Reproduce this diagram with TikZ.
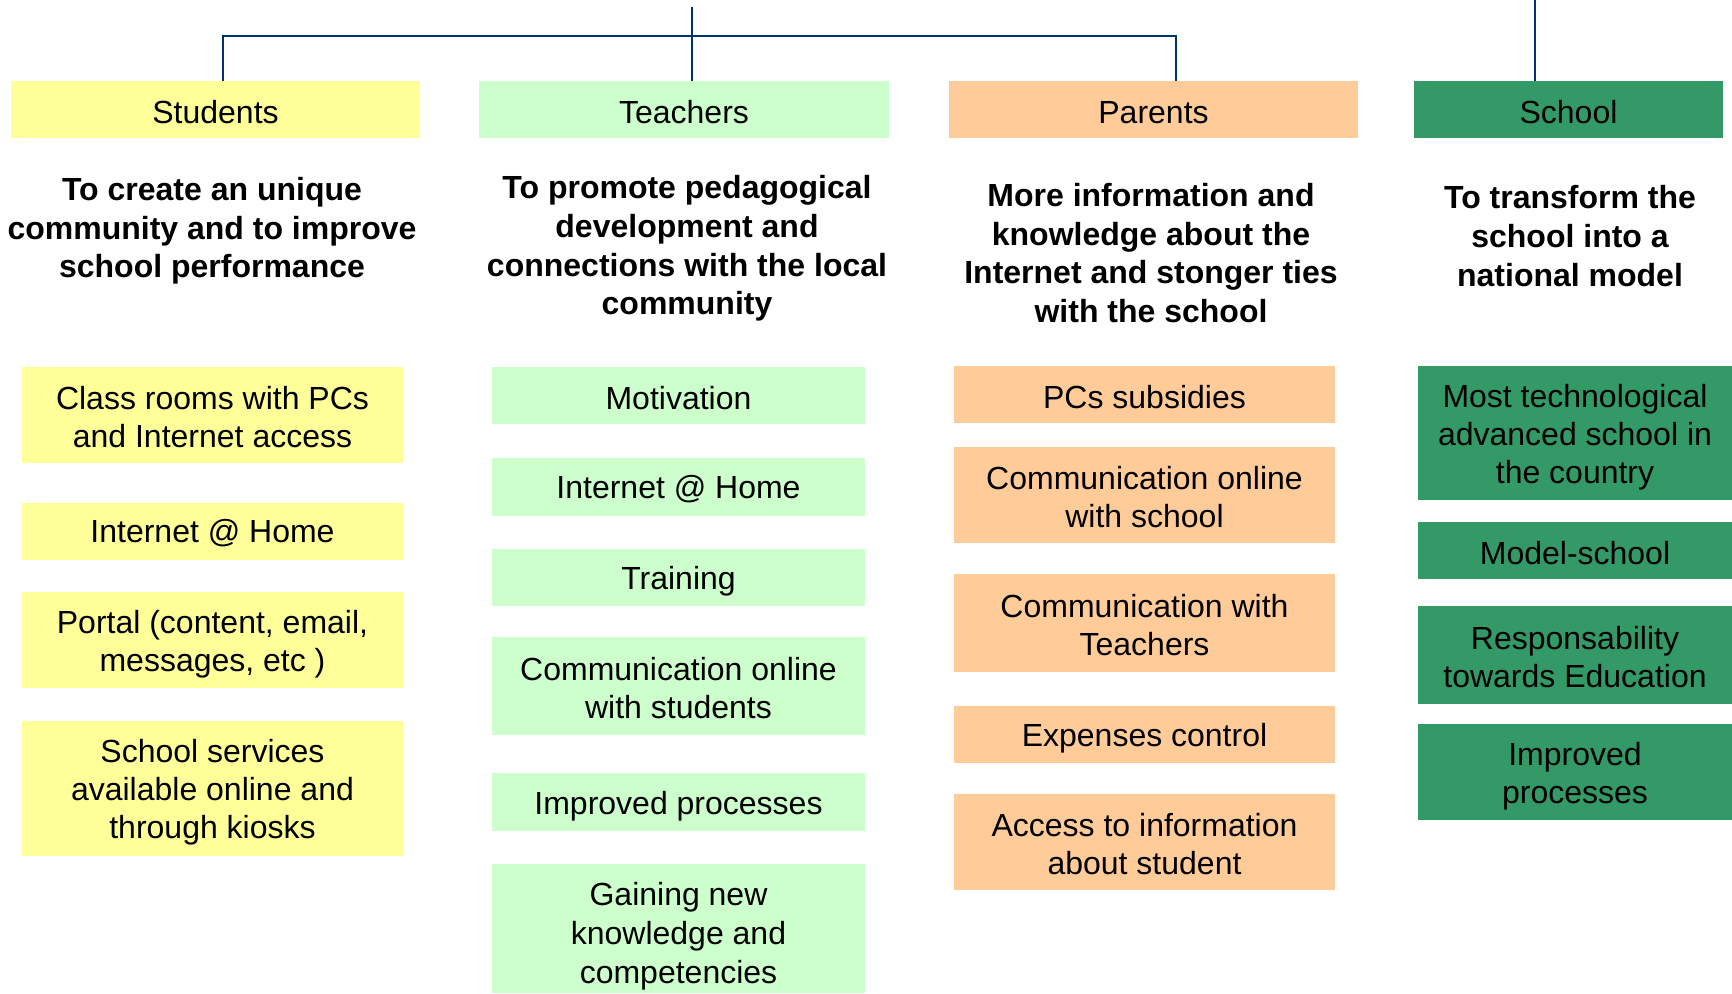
\documentclass[tikz,border=0pt]{standalone}
\usepackage{fontspec}
\setmainfont{Liberation Sans}
\usepackage{xcolor}
\definecolor{stuYellow}{HTML}{FFFF99}
\definecolor{teaGreen}{HTML}{CCFFCC}
\definecolor{parOrange}{HTML}{FFCC99}
\definecolor{schGreen}{HTML}{339966}
\definecolor{lineBlue}{HTML}{003366}

\begin{document}
\begin{tikzpicture}[x=0.5pt,y=-0.5pt]
	\tikzstyle{every node}=[font=\fontsize{16}{19}\selectfont, inner sep=0pt, align=center];
	\tikzstyle{goal}=[font=\fontsize{16}{19.3}\selectfont\bfseries];
	\tikzstyle{head}=[minimum height=28.5pt, text height=13.7pt];
	\tikzstyle{stu}=[fill=stuYellow, minimum width=190.5pt, text height=13.7pt];
	\tikzstyle{tea}=[fill=teaGreen, minimum width=186.5pt, text height=13.7pt];
	\tikzstyle{par}=[fill=parOrange, minimum width=190.5pt, text height=13.7pt];
	\tikzstyle{sch}=[fill=schGreen, minimum width=157pt, text height=13.7pt];
	\tikzstyle{low}=[text height=15.5pt];
	\tikzstyle{two}=[text height=32.7pt];
	\tikzstyle{twolow}=[text height=34.5pt];
	\tikzstyle{three}=[text height=51.7pt];
	\tikzstyle{threelow}=[text height=53.5pt];
	\tikzstyle{link}=[draw=lineBlue, line width=1pt];
	
	\useasboundingbox (0,0) rectangle (1732,994);
	
	%Headers
	\node[head, fill=stuYellow, minimum width=204.5pt] (stud) at (215.5,109.5) {Students};
	\node[head, fill=teaGreen, minimum width=205pt] (teach) at (684,109.5) {Teachers};
	\node[head, fill=parOrange, minimum width=204.5pt] (pare) at (1153.5,109.5) {Parents};
	\node[head, fill=schGreen, minimum width=154.5pt] (scho) at (1568.5,109.5) {School};
	
	%Lines
	\coordinate (tTop) at (692,7);
	\coordinate (cTop) at (1535,0);
	\coordinate (barL) at (223,36);
	\coordinate (barR) at (1176,36);
	\draw[link] (barL |- stud.north) -- (barL) -- (barR) -- (barR |- pare.north);
	\draw[link] (tTop) -- (tTop |- teach.north);
	\draw[link] (cTop) -- (cTop |- scho.north);
	
	%Goals
	\node[goal] (gStud) at (212,231) {To create an unique\\community and to improve\\school performance};
	\node[goal] (gTeach) at (687,248.5) {To promote pedagogical\\development and\\connections with the local\\community};
	\node[goal] (gPare) at (1151,253) {More information and\\knowledge about the\\Internet and stonger ties\\with the school};
	\node[goal] (gScho) at (1570,236) {To transform the\\school into a\\national model};
	
	%Students
	\node[stu, two, minimum height=48pt] (s1) at (212.5,415) {Class rooms with PCs\\and Internet access};
	\node[stu, minimum height=28.5pt] (s2) at (212.5,531.5) {Internet @ Home};
	\node[stu, twolow, minimum height=48pt] (s3) at (212.5,640) {Portal (content, email,\\messages, etc )};
	\node[stu, threelow, minimum height=67.5pt] (s4) at (212.5,788.5) {School services\\available online and\\through kiosks};
	
	%Teachers
	\node[tea, minimum height=28.5pt] (t1) at (678.5,395.5) {Motivation};
	\node[tea, minimum height=29pt] (t2) at (678.5,487) {Internet @ Home};
	\node[tea, low, minimum height=28.5pt] (t3) at (678.5,577.5) {Training};
	\node[tea, two, minimum height=49pt] (t4) at (678.5,686) {Communication online\\with students};
	\node[tea, low, minimum height=29pt] (t5) at (678.5,802) {Improved processes};
	\node[tea, text height=58.3pt, minimum height=64.5pt, font=\fontsize{16}{19.4}\selectfont] (t6) at (678.5,928.5) {Gaining new\\knowledge and\\competencies};
	
	%Parents
	\node[par, minimum height=28.5pt] (p1) at (1144.5,394.5) {PCs subsidies};
	\node[par, two, minimum height=48pt] (p2) at (1144.5,495) {Communication online\\with school};
	\node[par, two, minimum height=49pt] (p3) at (1144.5,623) {Communication with\\Teachers};
	\node[par, low, minimum height=28.5pt] (p4) at (1144.5,734.5) {Expenses control};
	\node[par, two, minimum height=48pt] (p5) at (1144.5,842) {Access to information\\about student};
	
	%School
	\node[sch, threelow, minimum height=67pt] (c1) at (1575,433) {Most technological\\advanced school in\\the country};
	\node[sch, minimum height=28.5pt] (c2) at (1575,550.5) {Model-school};
	\node[sch, two, minimum height=49pt] (c3) at (1575,655) {Responsability\\towards Education};
	\node[sch, twolow, minimum height=48pt] (c4) at (1575,772) {Improved\\processes};
\end{tikzpicture}
\end{document}
